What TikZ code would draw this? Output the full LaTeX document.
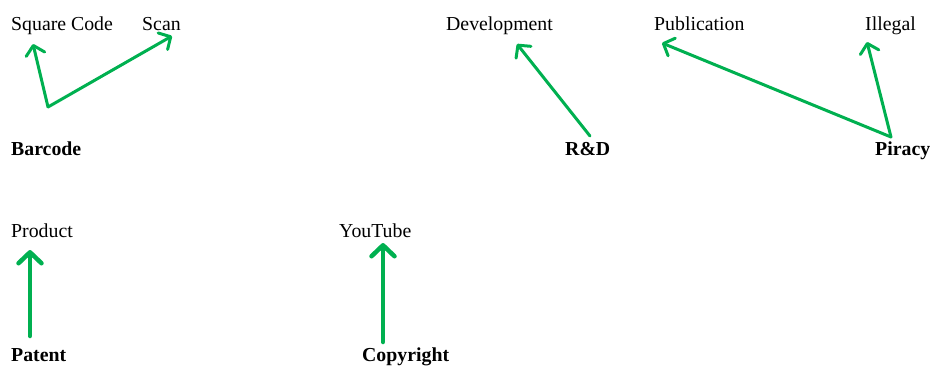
\documentclass[tikz,border=0pt]{standalone}
\usepackage{fontspec}
\setmainfont{Liberation Serif}
\usetikzlibrary{arrows.meta}
\definecolor{arrgreen}{RGB}{0,176,80}
\tikzset{
  lbl/.style={inner sep=0pt, anchor=base west, font=\fontsize{19.8}{24}\selectfont},
  key/.style={lbl, font=\fontsize{19.8}{24}\selectfont\bfseries},
  conn/.style={draw=arrgreen, line width=3pt, line cap=round, line join=round,
    -{Straight Barb[length=9pt,width=19pt,line cap=round,line join=round]}},
  thickconn/.style={conn, line width=4.5pt,
    -{Straight Barb[length=11pt,width=23pt,line cap=round,line join=round]}}
}
\begin{document}
\begin{tikzpicture}[x=1pt,y=-1pt]
\useasboundingbox (0,0) rectangle (930,365);
% texts
\node[lbl] (square) at (11,30) {Square Code};
\node[lbl] (scan) at (142,30) {Scan};
\node[lbl] (dev) at (446,30) {Development};
\node[lbl] (pub) at (654,30) {Publication};
\node[lbl] (illegal) at (865,30) {Illegal};
\node[key] (barcode) at (11,155) {Barcode};
\node[key] (rd) at (565,155) {R\&D};
\node[key] (piracy) at (875,155) {Piracy};
\node[lbl] (product) at (11,237) {Product};
\node[lbl] (youtube) at (339,237) {YouTube};
\node[key] (patent) at (11,361) {Patent};
\node[key] (copyright) at (362,361) {Copyright};
% connector ends
\coordinate (bc) at (48,107);
\coordinate (sqt) at (33,44);
\coordinate (sct) at (172,36);
\coordinate (rdc) at (590,136);
\coordinate (devt) at (517,44);
\coordinate (pc) at (891,137);
\coordinate (pubt) at (662,43);
\coordinate (illt) at (867,42);
\coordinate (pat) at (30,336);
\coordinate (prodt) at (30,250);
\coordinate (cop) at (383,342);
\coordinate (yout) at (383,243);
% connectors
\draw[conn] (bc) -- (sqt);
\draw[conn] (bc) -- (sct);
\draw[conn] (rdc) -- (devt);
\draw[conn] (pc) -- (pubt);
\draw[conn] (pc) -- (illt);
\draw[thickconn] (pat) -- (prodt);
\draw[thickconn] (cop) -- (yout);
\end{tikzpicture}
\end{document}
